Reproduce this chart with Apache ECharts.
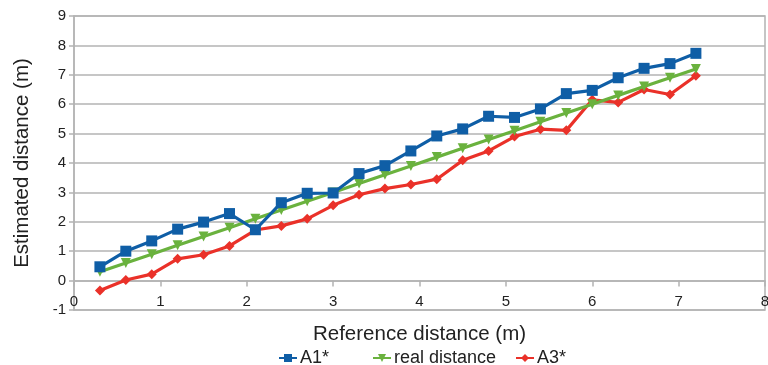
<!DOCTYPE html>
<html>
<head>
<meta charset="utf-8">
<script src="https://cdn.jsdelivr.net/npm/echarts@6/dist/echarts.min.js"></script>
<style>
html,body{margin:0;padding:0;background:#fff;}
#c{width:768px;height:365px;}
</style>
</head>
<body>
<div id="c"></div>
<script>
const refDistance = [0.3,0.6,0.9,1.2,1.5,1.8,2.1,2.4,2.7,3.0,3.3,3.6,3.9,4.2,4.5,4.8,5.1,5.4,5.7,6.0,6.3,6.6,6.9,7.2];
const a1Values = [0.47,1.0,1.35,1.75,1.99,2.28,1.73,2.65,2.97,2.98,3.64,3.91,4.41,4.92,5.16,5.59,5.55,5.84,6.36,6.47,6.9,7.22,7.38,7.73];
const realValues = [0.3,0.6,0.9,1.2,1.5,1.8,2.1,2.4,2.7,3.0,3.3,3.6,3.9,4.2,4.5,4.8,5.1,5.4,5.7,6.0,6.3,6.6,6.9,7.2];
const a3Values = [-0.34,0.02,0.22,0.74,0.88,1.18,1.72,1.86,2.1,2.56,2.92,3.13,3.27,3.45,4.09,4.41,4.9,5.15,5.11,6.15,6.06,6.5,6.33,6.97];
const seriesNames = ['A1*','real distance','A3*'];
const xTitle = 'Reference distance (m)';
const yTitle = 'Estimated distance (m)';

function pairs(vals){ return refDistance.map((x,i)=>[x, vals[i]]); }

const chart = echarts.init(document.getElementById('c'), null, {renderer:'canvas'});
const font = 'Liberation Sans, Arial, sans-serif';
const gridCol = '#b3b3b3';
const txt = '#222';
const legendLefts = [273, 367, 510];
function legendFor(i){
  return {
    top:344,left:legendLefts[i],itemWidth:18,itemHeight:10,itemGap:0,
    textStyle:{fontFamily:font,fontSize:18,color:txt,padding:[0,0,0,-2]},
    data:[seriesNames[i]]
  };
}
chart.setOption({
  animation:false,
  backgroundColor:'#fff',
  textStyle:{fontFamily:font},
  grid:{left:74,right:3,top:16,bottom:55,show:true,borderColor:gridCol,borderWidth:1.5,
        containLabel:false,outerBoundsMode:'none'},
  legend:[legendFor(0),legendFor(1),legendFor(2)],
  xAxis:{
    type:'value',min:0,max:8,interval:1,
    name:xTitle,nameLocation:'middle',nameGap:14,
    nameTextStyle:{fontFamily:font,fontSize:20.5,color:txt},
    axisLine:{show:true,onZero:true,lineStyle:{color:gridCol,width:1.5}},
    axisTick:{show:true,length:6,lineStyle:{color:gridCol,width:1.5}},
    axisLabel:{fontFamily:font,fontSize:15,color:txt,margin:-16},
    splitLine:{show:false}
  },
  yAxis:{
    type:'value',min:-1,max:9,interval:1,
    name:yTitle,nameLocation:'middle',nameGap:41,nameRotate:90,
    nameTextStyle:{fontFamily:font,fontSize:20.5,color:txt},
    axisLine:{show:true,onZero:false,lineStyle:{color:gridCol,width:1.5}},
    axisTick:{show:true,length:5,lineStyle:{color:gridCol,width:1.5}},
    axisLabel:{fontFamily:font,fontSize:15,color:txt,margin:8},
    splitLine:{show:true,lineStyle:{color:gridCol,width:1.5}}
  },
  series:[
    {name:seriesNames[0],type:'line',data:pairs(a1Values),symbol:'rect',symbolSize:11,
     lineStyle:{width:3.2,color:'#0f5ea6'},itemStyle:{color:'#0f5ea6'},z:3},
    {name:seriesNames[1],type:'line',data:pairs(realValues),symbol:'triangle',symbolRotate:180,symbolSize:10,
     lineStyle:{width:3.2,color:'#6ab23e'},itemStyle:{color:'#6ab23e'},z:2},
    {name:seriesNames[2],type:'line',data:pairs(a3Values),symbol:'diamond',symbolSize:10,
     lineStyle:{width:3.2,color:'#ea3129'},itemStyle:{color:'#ea3129'},z:1}
  ]
});
</script>
</body>
</html>
